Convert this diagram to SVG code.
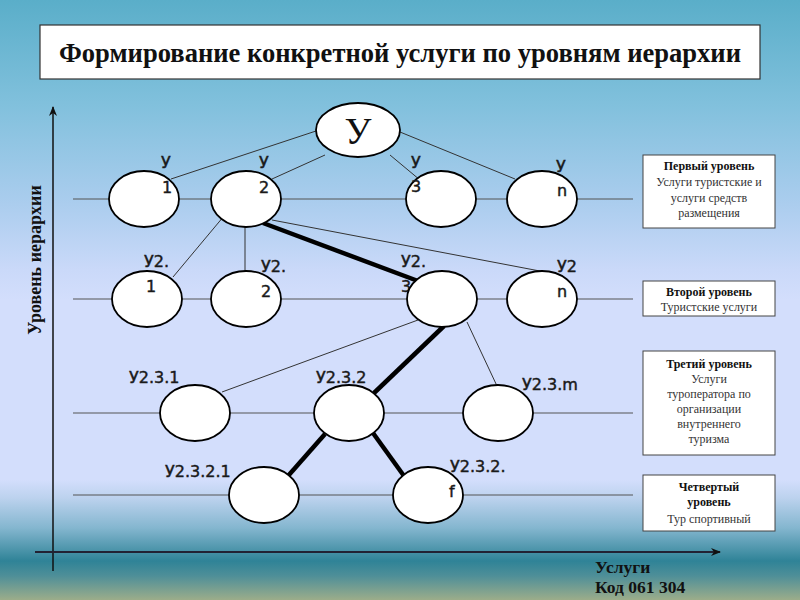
<svg xmlns="http://www.w3.org/2000/svg" width="800" height="600" viewBox="0 0 800 600">
<defs>
<linearGradient id="bg" x1="0" y1="0" x2="0" y2="1">
<stop offset="0" stop-color="#5aaec9"/>
<stop offset="0.17" stop-color="#80c0dc"/>
<stop offset="0.34" stop-color="#abcdee"/>
<stop offset="0.45" stop-color="#cad9f9"/>
<stop offset="0.5" stop-color="#d3defc"/>
<stop offset="0.8" stop-color="#d3defc"/>
<stop offset="0.83" stop-color="#bcd2ee"/>
<stop offset="0.88" stop-color="#84b6cf"/>
<stop offset="0.935" stop-color="#2f8397"/>
<stop offset="0.96" stop-color="#4f8f98"/>
<stop offset="1" stop-color="#9cad8a"/>
</linearGradient>
<marker id="arr" markerWidth="10" markerHeight="8" refX="9" refY="4" orient="auto" markerUnits="userSpaceOnUse">
<path d="M0,0 L10,4 L0,8 L3,4 Z" fill="#111"/>
</marker>
<style>
.lvl{stroke:#555;stroke-width:1.2;fill:none}
.thin{stroke:#333;stroke-width:1;fill:none}
.thick{stroke:#000;stroke-width:4.5;fill:none}
.node{fill:#fff;stroke:#000;stroke-width:1.8}
.lbl{font-family:"DejaVu Sans",Verdana,sans-serif;font-size:16px;fill:#1a1a1a;stroke:#1a1a1a;stroke-width:0.45}
.box{fill:#fff;stroke:#444;stroke-width:1}
.bt{font-family:"Liberation Serif","Times New Roman",serif;font-size:12px;fill:#333;text-anchor:middle}
.bb{font-weight:bold;fill:#111}
.ax{font-family:"Liberation Serif","Times New Roman",serif;font-weight:bold;fill:#111}
</style>
</defs>
<rect x="0" y="0" width="800" height="600" fill="url(#bg)"/>

<g id="title">
<rect x="40" y="25" width="720" height="54" fill="#fff" stroke="#333" stroke-width="1.2"/>
<text x="400" y="62" text-anchor="middle" font-family="'Liberation Serif','Times New Roman',serif" font-size="27" font-weight="bold" fill="#111" textLength="682" lengthAdjust="spacingAndGlyphs">Формирование конкретной услуги по уровням иерархии</text>
</g>

<g id="axes">
<line x1="53" y1="571" x2="53" y2="107" stroke="#111" stroke-width="1.5" marker-end="url(#arr)"/>
<line x1="35" y1="552" x2="720" y2="552" stroke="#223" stroke-width="2" marker-end="url(#arr)"/>
<text class="ax" font-size="18" transform="translate(41,260) rotate(-90)" text-anchor="middle">Уровень иерархии</text>
<text class="ax" font-size="17.5" x="595" y="573">Услуги</text>
<text class="ax" font-size="17.5" x="595" y="593">Код 061 304</text>
</g>

<g id="levels">
<line class="lvl" x1="73" y1="199" x2="633" y2="199"/>
<line class="lvl" x1="73" y1="299" x2="633" y2="299"/>
<line class="lvl" x1="73" y1="413" x2="633" y2="413"/>
<line class="lvl" x1="73" y1="495" x2="633" y2="495"/>
</g>

<g id="labels-under">
<text class="lbl" x="401" y="292">3</text>
</g>

<g id="connectors">
<line class="thin" x1="316" y1="131" x2="171" y2="179"/>
<line class="thin" x1="325" y1="155" x2="272" y2="179"/>
<line class="thin" x1="390" y1="155" x2="420" y2="180"/>
<line class="thin" x1="400" y1="132" x2="515" y2="179"/>
<line class="thin" x1="224" y1="216" x2="173" y2="277"/>
<line class="thin" x1="245" y1="226" x2="245" y2="272"/>
<line class="thin" x1="272" y1="220" x2="545" y2="272"/>
<line class="thick" x1="263" y1="223" x2="418" y2="281"/>
<line class="thin" x1="418" y1="320" x2="222" y2="392"/>
<line class="thick" x1="444" y1="326" x2="374" y2="393"/>
<line class="thin" x1="467" y1="322" x2="497" y2="386"/>
<line class="thick" x1="325" y1="434" x2="288" y2="476"/>
<line class="thick" x1="373" y1="433" x2="404" y2="476"/>
</g>

<g id="n-root"><ellipse class="node" cx="358" cy="130" rx="42" ry="27" stroke-width="4.5"/>
<text x="358" y="144" text-anchor="middle" font-family="'Liberation Serif','Times New Roman',serif" font-size="38" fill="#111">У</text></g>

<g id="n1"><ellipse class="node" cx="144" cy="199" rx="35" ry="28"/><text class="lbl" x="161" y="168">У</text><text class="lbl" x="162" y="193">1</text></g>
<g id="n2"><ellipse class="node" cx="246" cy="199" rx="35" ry="28"/><text class="lbl" x="259" y="168">У</text><text class="lbl" x="259" y="193">2</text></g>
<g id="n3"><ellipse class="node" cx="441" cy="199" rx="35" ry="28"/><text class="lbl" x="411" y="168">У</text><text class="lbl" x="411" y="192">3</text></g>
<g id="nn"><ellipse class="node" cx="542" cy="199" rx="35" ry="28"/><text class="lbl" x="556" y="172">У</text><text class="lbl" x="557" y="196">n</text></g>

<g id="n21"><ellipse class="node" cx="147" cy="299" rx="35" ry="28"/><text class="lbl" x="144" y="267">У2.</text><text class="lbl" x="146" y="292">1</text></g>
<g id="n22"><ellipse class="node" cx="246" cy="299" rx="35" ry="28"/><text class="lbl" x="261" y="272">У2.</text><text class="lbl" x="261" y="297">2</text></g>
<g id="n23"><ellipse class="node" cx="442" cy="299" rx="35" ry="28"/><text class="lbl" x="401" y="267">У2.</text></g>
<g id="n2n"><ellipse class="node" cx="542" cy="299" rx="35" ry="28"/><text class="lbl" x="557" y="272">У2</text><text class="lbl" x="557" y="297">n</text></g>

<g id="n231"><ellipse class="node" cx="195" cy="413" rx="35" ry="28"/><text class="lbl" x="129" y="383">У2.3.1</text></g>
<g id="n232"><ellipse class="node" cx="349" cy="413" rx="35" ry="28"/><text class="lbl" x="316" y="383">У2.3.2</text></g>
<g id="n23m"><ellipse class="node" cx="498" cy="413" rx="35" ry="28"/><text class="lbl" x="522" y="390">У2.3.m</text></g>

<g id="n2321"><ellipse class="node" cx="264" cy="495" rx="35" ry="28"/><text class="lbl" x="165" y="477">У2.3.2.1</text></g>
<g id="n232f"><ellipse class="node" cx="428" cy="495" rx="35" ry="28"/><text class="lbl" x="450" y="472">У2.3.2.</text><text class="lbl" x="449" y="497">f</text></g>

<g id="box1"><rect class="box" x="643" y="155" width="132" height="73"/>
<text class="bt bb" x="709" y="170">Первый уровень</text>
<text class="bt" x="709" y="186">Услуги туристские и</text>
<text class="bt" x="709" y="202">услуги средств</text>
<text class="bt" x="709" y="217">размещения</text></g>

<g id="box2"><rect class="box" x="643" y="281" width="132" height="35"/>
<text class="bt bb" x="709" y="296">Второй уровень</text>
<text class="bt" x="709" y="311">Туристские услуги</text></g>

<g id="box3"><rect class="box" x="643" y="351" width="132" height="104"/>
<text class="bt bb" x="709" y="368">Третий уровень</text>
<text class="bt" x="709" y="383">Услуги</text>
<text class="bt" x="709" y="398">туроператора по</text>
<text class="bt" x="709" y="413">организации</text>
<text class="bt" x="709" y="428">внутреннего</text>
<text class="bt" x="709" y="443">туризма</text></g>

<g id="box4"><rect class="box" x="643" y="475" width="132" height="56"/>
<text class="bt bb" x="709" y="491">Четвертый</text>
<text class="bt bb" x="709" y="506">уровень</text>
<text class="bt" x="709" y="523">Тур спортивный</text></g>
</svg>
